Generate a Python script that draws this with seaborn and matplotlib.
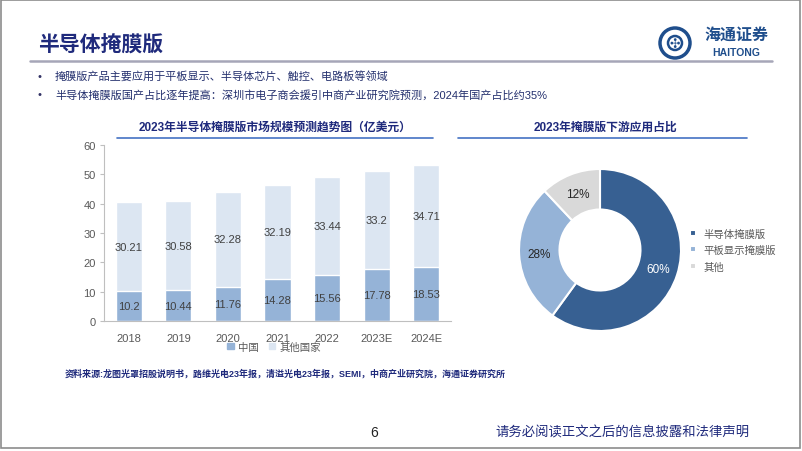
import numpy as np
import pandas as pd
import matplotlib.pyplot as plt
import seaborn as sns
from matplotlib.patches import Rectangle, Patch, Ellipse

# data
YEARS = ['2018', '2019', '2020', '2021', '2022', '2023E', '2024E']
CHINA = [10.2, 10.44, 11.76, 14.28, 15.56, 17.78, 18.53]
OTHERS = [30.21, 30.58, 32.28, 32.19, 33.44, 33.2, 34.71]
SHARE_LABELS = ['半导体掩膜版', '平板显示掩膜版', '其他']
SHARE_VALUES = [60, 28, 12]
BULLETS = ['掩膜版产品主要应用于平板显示、半导体芯片、触控、电路板等领域',
           '半导体掩膜版国产占比逐年提高：深圳市电子商会援引中商产业研究院预测，2024年国产占比约35%']

NAVY = '#1F2A7C'
C_CHINA = '#95B3D7'
C_OTHER = '#DCE6F2'
PIE_COLORS = ['#376092', '#95B3D7', '#D9D9D9']
W, H = 802, 452

sns.set_style('white')
plt.rcParams['font.family'] = ['Liberation Sans', 'Noto Sans CJK SC', 'DejaVu Sans']


def fx(px):
    return px / W


def fy(py):
    return 1 - py / H


def make_df() -> pd.DataFrame:
    df = pd.DataFrame({'Year': YEARS, 'China': CHINA, 'Others': OTHERS})
    df['Total'] = df['China'] + df['Others']
    return df


fig = plt.figure(figsize=(W / 100, H / 100), dpi=100)

# slide frame
fig.patches.append(Rectangle((0.001, 0.006), 0.997, 0.992, transform=fig.transFigure,
                             fill=False, edgecolor='#8C8C8C', linewidth=1.2))

# header
fig.text(fx(38), fy(45), '半导体掩膜版', fontsize=15, fontweight='bold', color=NAVY,
         va='center', ha='left')
fig.add_artist(plt.Line2D([fx(30), fx(772)], [fy(62), fy(62)], color='#A6A6B8', lw=1.8))
for i, line in enumerate(BULLETS):
    y = fy(77 + 18 * i)
    fig.text(fx(38), y, '•', fontsize=8, color='#333366', va='center')
    fig.text(fx(55), y, line, fontsize=8, color='#24306E', va='center')

# logo
LOGO = '#1F4E8C'
fig.patches.append(Ellipse((fx(675), fy(44)), 30 / W, 30 / H, transform=fig.transFigure,
                           fill=False, edgecolor=LOGO, linewidth=2.5))
fig.patches.append(Ellipse((fx(675), fy(44)), 14 / W, 14 / H, transform=fig.transFigure,
                           fill=False, edgecolor=LOGO, linewidth=1.8))
fig.text(fx(675), fy(44), '✣', fontsize=9, color=LOGO, ha='center', va='center',
         family=['DejaVu Sans'])
fig.text(fx(736), fy(35), '海通证券', fontsize=11.5, color=LOGO, ha='center',
         va='center', fontstyle='italic', fontweight='bold')
fig.text(fx(736), fy(53), 'HAITONG', fontsize=7.5, color=LOGO, ha='center',
         va='center', fontweight='bold')

# chart titles
fig.text(fx(275), fy(128), '2023年半导体掩膜版市场规模预测趋势图（亿美元）', fontsize=8.5,
         fontweight='bold', color=NAVY, ha='center', va='center')
fig.add_artist(plt.Line2D([fx(117), fx(433)], [fy(139), fy(139)], color='#4472C4', lw=1.2))
fig.text(fx(605), fy(128), '2023年掩膜版下游应用占比', fontsize=8.5,
         fontweight='bold', color=NAVY, ha='center', va='center')
fig.add_artist(plt.Line2D([fx(458), fx(747)], [fy(139), fy(139)], color='#4472C4', lw=1.2))

# stacked bars
df = make_df()
ax = fig.add_axes([fx(104), fy(322), fx(451) - fx(104), (322 - 146) / H])
sns.barplot(data=df, x='Year', y='Total', color=C_OTHER, saturation=1, width=0.53, ax=ax)
sns.barplot(data=df, x='Year', y='China', color=C_CHINA, saturation=1, width=0.53, ax=ax)
for i, row in df.iterrows():
    ax.text(i, row['China'] / 2, f"{row['China']:g}", ha='center', va='center',
            fontsize=8, color='#404040')
    ax.text(i, row['China'] + row['Others'] / 2, f"{row['Others']:g}", ha='center',
            va='center', fontsize=8, color='#404040')
ax.set_ylim(0, 60)
ax.set_xlim(-0.5, len(YEARS) - 0.5)
ax.set_yticks(np.arange(0, 61, 10))
ax.set_xlabel('')
ax.set_ylabel('')
ax.tick_params(axis='y', left=True, length=3, color='#BFBFBF', labelsize=8,
               labelcolor='#595959', pad=3)
ax.tick_params(axis='x', bottom=False, labelsize=8, labelcolor='#595959', pad=5)
for s in ['top', 'right']:
    ax.spines[s].set_visible(False)
for s in ['left', 'bottom']:
    ax.spines[s].set_color('#BFBFBF')
    ax.spines[s].set_linewidth(0.8)
ax.legend(handles=[Patch(color=C_CHINA, label='中国'), Patch(color=C_OTHER, label='其他国家')],
          loc='center', bbox_to_anchor=(0.49, -0.145), ncol=2, frameon=False, fontsize=7.5,
          handlelength=0.6, handleheight=0.6, handletextpad=0.4, columnspacing=1.0,
          labelcolor='#595959')

# donut
pax = fig.add_axes([fx(519), fy(332), 162 / W, 162 / H])
wedges, _ = pax.pie(SHARE_VALUES, colors=PIE_COLORS, startangle=90, counterclock=False,
                    radius=1, wedgeprops=dict(width=0.5, edgecolor='white', linewidth=1.5))
pax.set_xlim(-1, 1)
pax.set_ylim(-1, 1)
pax.set_aspect('equal')
start = 90
for w, v, c in zip(wedges, SHARE_VALUES, ['white', '#262626', '#262626']):
    mid = np.deg2rad(start - v * 3.6 / 2)
    start -= v * 3.6
    pax.text(0.75 * np.cos(mid), 0.75 * np.sin(mid), f'{v}%', ha='center', va='center',
             fontsize=8.5, color=c)
pax.legend(wedges, SHARE_LABELS, loc='center left', bbox_to_anchor=(1.0, 0.5),
           frameon=False, fontsize=7.5, handlelength=0.5, handleheight=0.5,
           handletextpad=0.8, labelspacing=0.6, labelcolor='#595959')

# footer
fig.text(fx(65), fy(374), '资料来源:龙图光罩招股说明书，路维光电23年报，清溢光电23年报，SEMI，中商产业研究院，海通证券研究所',
         fontsize=6.5, fontweight='bold', color=NAVY, va='center')
fig.text(fx(374), fy(433), '6', fontsize=10, color='#222222', ha='center', va='center')
fig.text(fx(750), fy(433), '请务必阅读正文之后的信息披露和法律声明', fontsize=9.6,
         color=NAVY, ha='right', va='center')

fig.savefig('out.png', dpi=100)
